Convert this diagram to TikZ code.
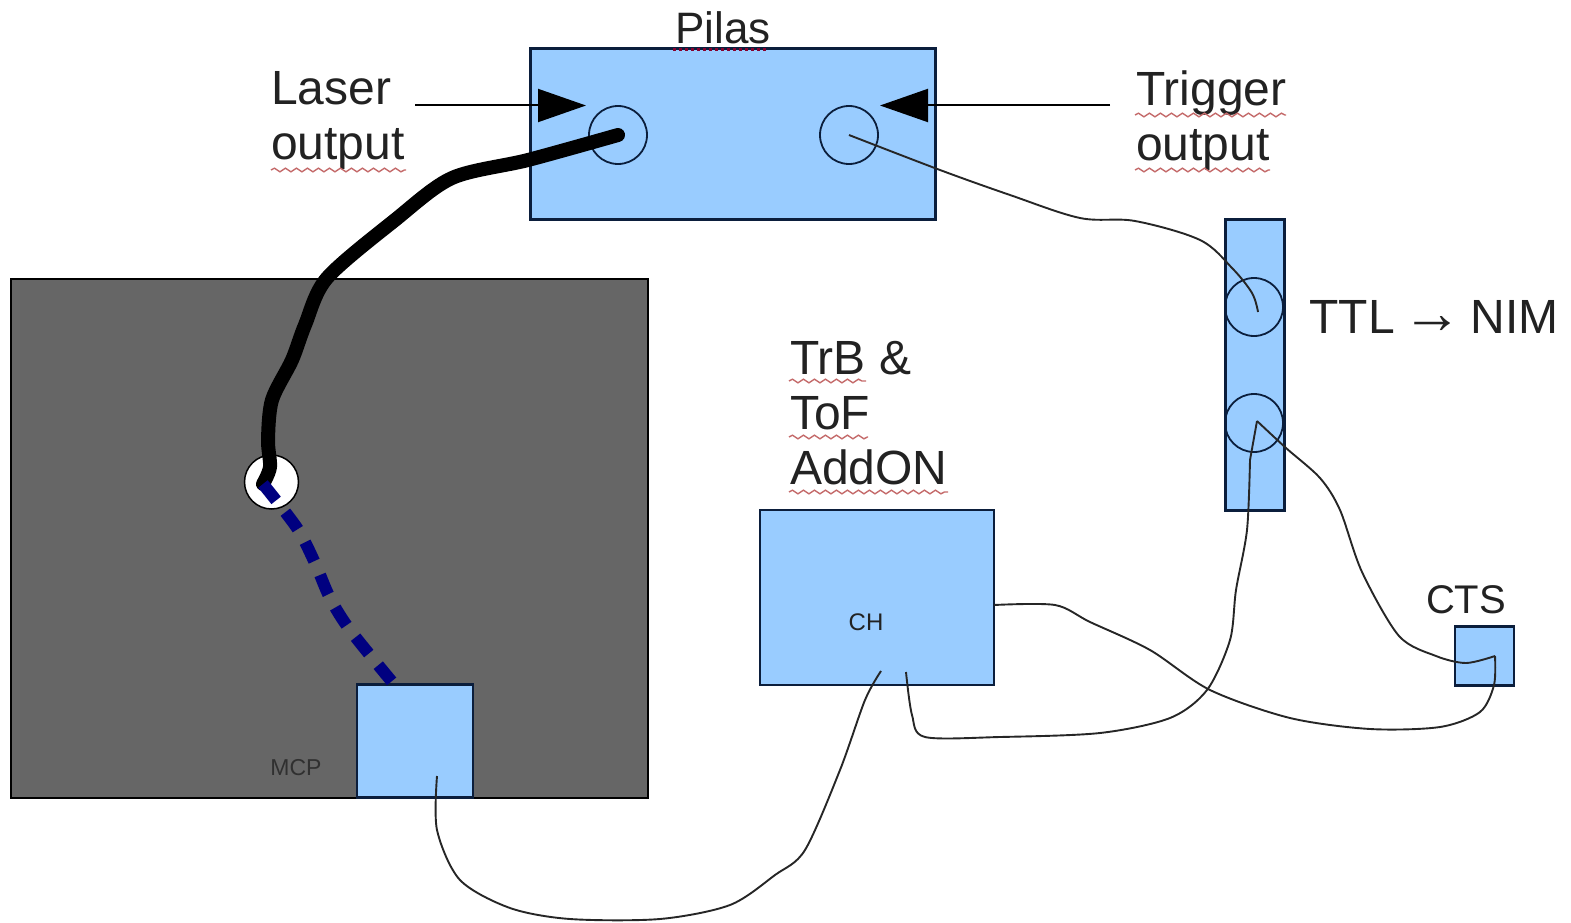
\documentclass[tikz,border=0pt]{standalone}
\usepackage{xcolor}
\usepackage{fontspec}
\setmainfont{Liberation Sans}
\usetikzlibrary{positioning,arrows.meta,decorations.pathmorphing}

\definecolor{boxblue}{HTML}{99CCFF}
\definecolor{plategrey}{HTML}{666666}
\definecolor{edgeblue}{HTML}{0B1E3C}
\definecolor{fibreblue}{HTML}{000080}
\definecolor{inkgrey}{HTML}{222222}
\definecolor{squigglered}{HTML}{C46A6A}

\tikzset{
  box/.style={draw=edgeblue, fill=boxblue, line width=2.2pt, inner sep=0pt, outer sep=0pt},
  port/.style={circle, draw=edgeblue, line width=1.8pt, inner sep=0pt, outer sep=0pt, minimum size=58pt},
  label/.style={inner sep=0pt, text=inkgrey, align=left, font=\fontsize{48}{55}\selectfont},
  wire/.style={draw=black!85, line width=1.9pt},
  pointer/.style={line width=2pt, -{Triangle[length=48pt,width=33pt]}},
  squiggle/.style={draw=squigglered, line width=1.4pt, decorate, decoration={snake, amplitude=1.8pt, segment length=11pt}}
}

\begin{document}
\begin{tikzpicture}[x=1pt,y=-1pt]
    \useasboundingbox (0,0) rectangle (1571,923);

    % Nodes
    \node (plate) [draw=black, fill=plategrey, line width=2pt, inner sep=0pt, outer sep=0pt, minimum width=637pt, minimum height=519pt] at (329.5,538) {};
    \node (hole) [circle, draw=black, fill=white, line width=1.5pt, inner sep=0pt, minimum size=54pt] at (271.5,482) {};
    \node (mcp) [box, minimum width=116pt, minimum height=113pt] at (415,741) {};
    \node (mcplabel) [text=inkgrey!80!plategrey, inner sep=0pt, font=\fontsize{23}{26}\selectfont] at (296,768) {MCP};

    \node (pilas) [box, minimum width=405pt, minimum height=171pt] at (733,134) {};
    \node (laserport) [port] at (618,135) {};
    \node (triggerport) [port] at (849,135) {};
    \node (pilaslabel) [label, font=\fontsize{44}{50}\selectfont] at (723,28) {Pilas};
    \node (laserlabel) [label, anchor=north west] at (271,71) {Laser\\output};
    \node (triggerlabel) [label, anchor=north west] at (1136,71) {Trigger\\output};

    \node (converter) [box, minimum width=59pt, minimum height=291pt] at (1255,365) {};
    \node (ttlport) [port] at (1254,307) {};
    \node (nimport) [port] at (1254,423) {};
    \node (converterlabel) [label] at (1434,317) {TTL\kern8pt{\fontsize{60}{55}\selectfont →}\kern8pt NIM};

    \node (addon) [box, minimum width=234pt, minimum height=175pt] at (877,597.5) {};
    \node (chlabel) [text=inkgrey, inner sep=0pt, font=\fontsize{24}{28}\selectfont] at (866,622) {CH};
    \node (addonlabel) [label, anchor=north west] at (790,341) {TrB \&\\ToF\\AddON};

    \node (cts) [box, minimum width=59pt, minimum height=59pt] at (1484.5,656) {};
    \node (ctslabel) [label, font=\fontsize{40}{46}\selectfont] at (1466,600) {CTS};

    \coordinate (laserfrom) at (415,105.5);
    \coordinate (laserto) at (586,105.5);
    \coordinate (triggerfrom) at (1110,105.5);
    \coordinate (triggerto) at (880,105.5);
    \coordinate (holein) at (263,484);
    \coordinate (mcpfibre) at (393,683);
    \coordinate (mcpout) at (437,776);
    \coordinate (chone) at (881,671);
    \coordinate (chtwo) at (906,672);
    \coordinate (addonout) at (994,605);
    \coordinate (ctsin) at (1495,656);

    % Arrows
    \draw[pointer] (laserfrom) -- (laserto);
    \draw[pointer] (triggerfrom) -- (triggerto);

    % Fibres
    \draw[line width=14pt, line cap=round, black] plot[smooth, tension=0.5] coordinates
      {(laserport.center) (528,160) (452,178) (395,220) (327,278) (305,325) (292,360) (272,400) (268,440) (270,467) (holein)};
    \draw[fibreblue, line width=12pt, dash pattern=on 21pt off 15pt] plot[smooth, tension=0.5] coordinates
      {(holein) (297,528) (315,563) (330,598) (350,630) (mcpfibre)};

    % Wires
    \draw[wire] plot[smooth, tension=0.55] coordinates
      {(triggerport.center) (940,170) (1010,195) (1080,218) (1135,221) (1200,240) (1232,268) (1252,293) (1258,312)};
    \draw[wire] plot[smooth, tension=0.5] coordinates
      {(1257,421) (1286,448) (1320,478) (1340,510) (1362,572) (1399,636) (1436,656) (1466,663) (ctsin)};
    \draw[wire] (1257,421) -- (1250,460);
    \draw[wire] plot[smooth, tension=0.5] coordinates
      {(1250,460) (1247,530) (1236,590) (1230,640) (1207,690) (1170,718) (1100,733) (1000,737) (925,737) (912,715) (chtwo)};
    \draw[wire] plot[smooth, tension=0.5] coordinates
      {(addonout) (1055,605) (1090,622) (1150,650) (1210,690) (1290,718) (1370,729) (1440,727) (1480,712) (1494,685) (ctsin)};
    \draw[wire] plot[smooth, tension=0.5] coordinates
      {(mcpout) (437,830) (460,880) (510,908) (570,919) (660,919) (730,905) (775,875) (805,850) (840,770) (865,700) (chone)};

    % Squiggles
    \draw[squiggle] (271,170) -- (406,170);
    \draw[squiggle] (1135,115) -- (1286,115);
    \draw[squiggle] (1135,170) -- (1270,170);
    \draw[squiggle] (789,381) -- (866,381);
    \draw[squiggle] (789,437) -- (868,437);
    \draw[squiggle] (789,492) -- (948,492);
    \draw[draw=purple!70!black, line width=3pt, dash pattern=on 3pt off 3pt] (673,50) -- (768,50);
\end{tikzpicture}
\end{document}
